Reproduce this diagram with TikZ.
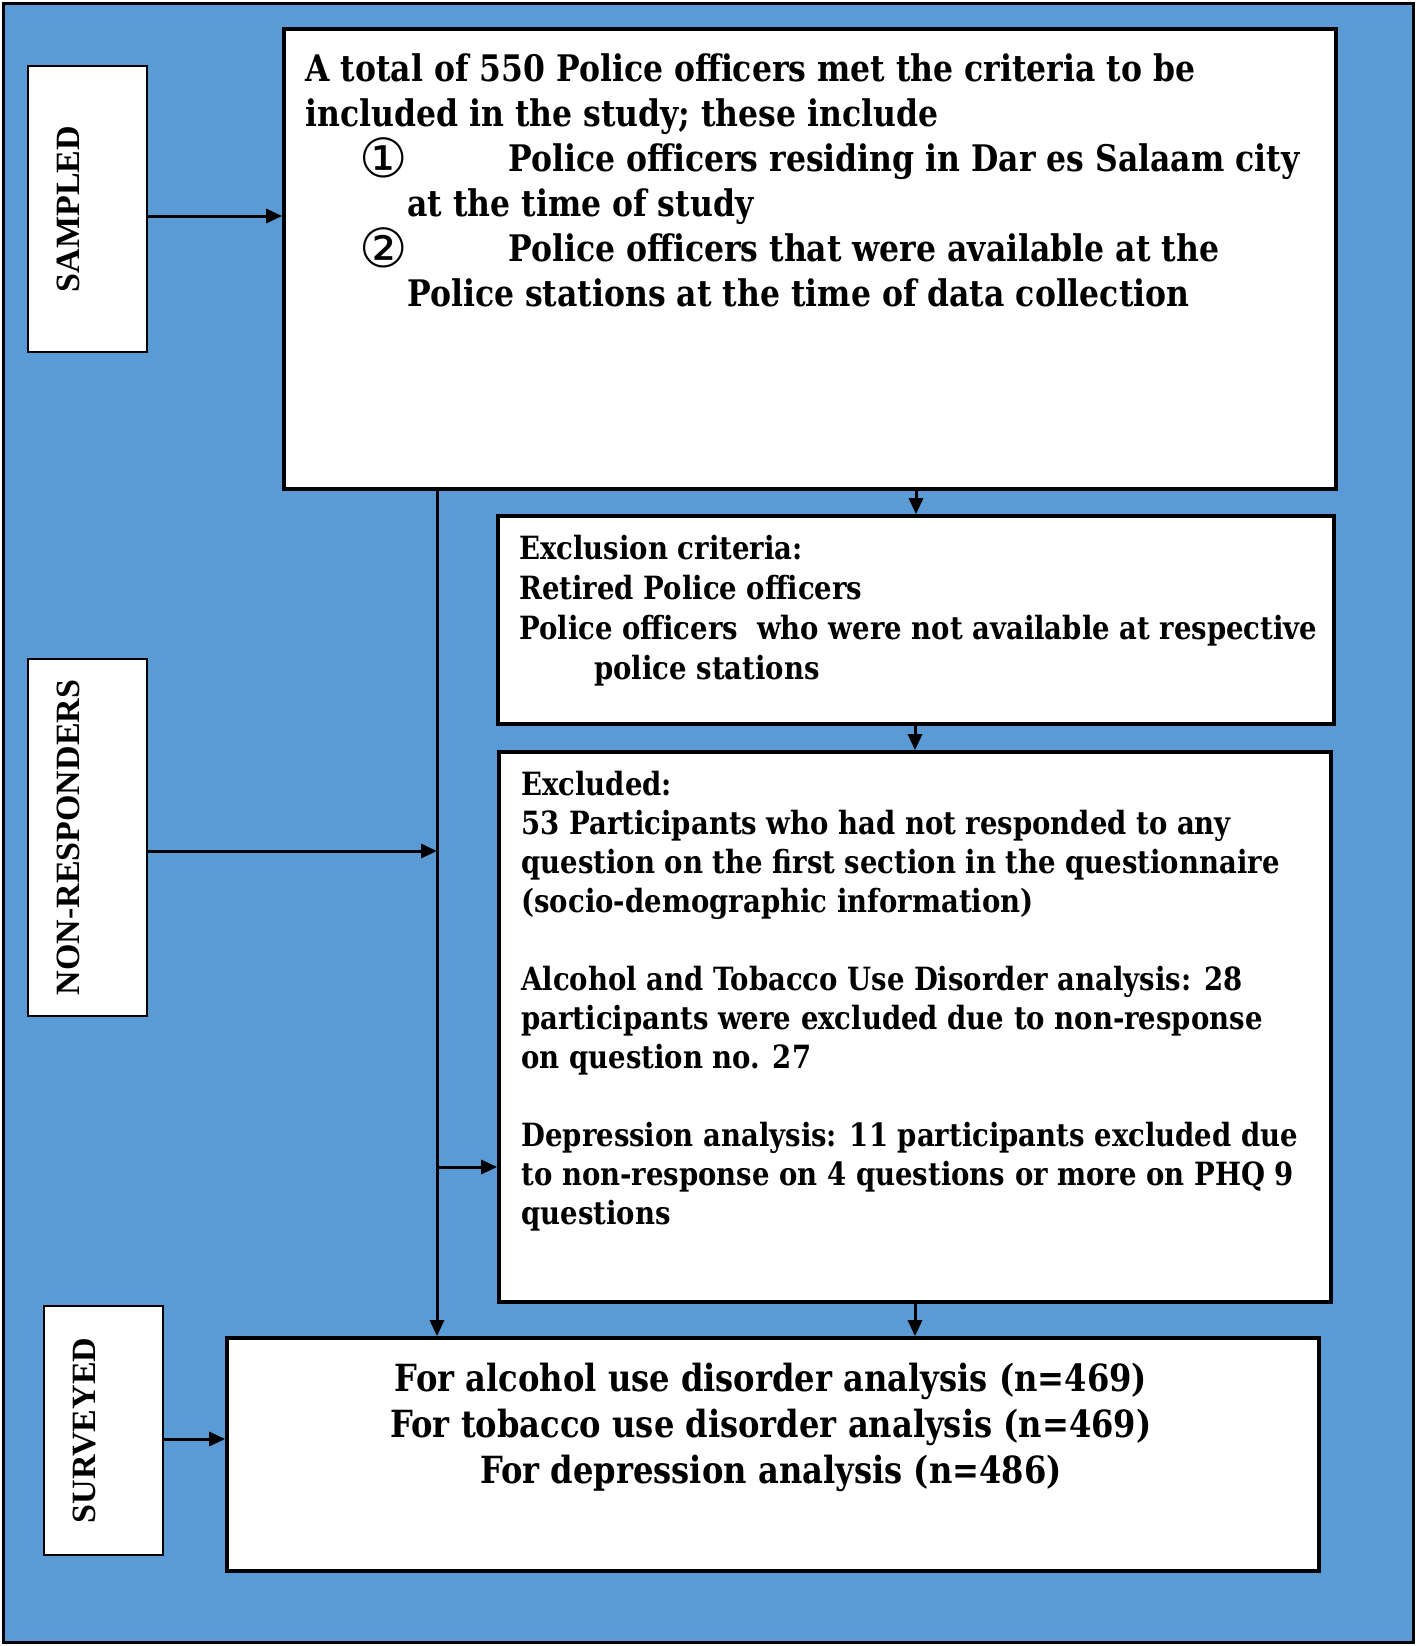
\documentclass[tikz,border=0pt]{standalone}
\usepackage{fontspec}
\setmainfont{DejaVu Serif}[FakeStretch=0.86]
\newfontfamily\labelfont{Liberation Serif}
\newfontfamily\digitfont{DejaVu Sans}
\usetikzlibrary{arrows.meta,fit,positioning}
\definecolor{panelblue}{HTML}{5B9BD5}
\newcommand{\circnum}[1]{\smash{\rlap{\raisebox{-3pt}{\digitfont\mdseries\fontsize{27}{27}\selectfont #1}}}}

\tikzset{
  mainbox/.style={draw=black,fill=white,line width=1.8pt,inner sep=0pt},
  sidebox/.style={draw=black,fill=white,line width=0.6pt,inner sep=0pt},
  sidetxt/.style={rotate=90,inner sep=0pt,yshift=9.5pt,font=\labelfont\bfseries\fontsize{17}{18}\selectfont},
  boxtxt/.style={anchor=north west,align=left,inner sep=0pt},
  flow/.style={line width=1.5pt,-{Triangle[length=8pt,width=7pt]}}
}

\begin{document}
\begin{tikzpicture}[x=0.5pt,y=-0.5pt]
\useasboundingbox (0,0) rectangle (1416,1646);
\draw[line width=1.5pt,fill=panelblue] (3,3) rectangle (1413,1642);

\node[sidebox,fit={(28,66) (147,352)},label={[sidetxt]center:SAMPLED}] (sampled) {};
\node[sidebox,fit={(28,659) (147,1016)},label={[sidetxt]center:NON-RESPONDERS}] (nonresp) {};
\node[sidebox,fit={(44,1306) (163,1555)},label={[sidetxt]center:SURVEYED}] (surveyed) {};

\node[mainbox,fit={(284,29) (1336,489)}] (total) {};
\node[mainbox,fit={(498,516) (1334,724)}] (exclcrit) {};
\node[mainbox,fit={(499,752) (1331,1302)}] (excluded) {};
\node[mainbox,fit={(227,1338) (1319,1571)}] (final) {};

\node[boxtxt,font=\bfseries\fontsize{18.3}{22.5}\selectfont] (totaltxt) at (305,53)
  {A total of 550 Police officers met the criteria to be\\
   included in the study; these include\\
   \hspace*{27pt}\circnum{①}\hspace*{74.5pt}Police officers residing in Dar es Salaam city\\
   \hspace*{51pt}at the time of study\\
   \hspace*{27pt}\circnum{②}\hspace*{74.5pt}Police officers that were available at the\\
   \hspace*{51pt}Police stations at the time of data collection};

\node[boxtxt,font=\bfseries\fontsize{16}{20}\selectfont] (exclcrittxt) at (519,535)
  {Exclusion criteria:\\
   Retired Police officers\\
   Police officers\ \ who were not available at respective\\
   \hspace*{37.5pt}police stations};

\node[boxtxt,font=\bfseries\fontsize{16}{19.5}\selectfont] (excludedtxt) at (521,771)
  {Excluded:\\
   53 Participants who had not responded to any\\
   question on the first section in the questionnaire\\
   (socio-demographic information)\\[19.5pt]
   Alcohol and Tobacco Use Disorder analysis: 28\\
   participants were excluded due to non-response\\
   on question no. 27\\[19.5pt]
   Depression analysis: 11 participants excluded due\\
   to non-response on 4 questions or more on PHQ 9\\
   questions};

\node[anchor=north,align=center,inner sep=0pt,font=\bfseries\fontsize{18.7}{23}\selectfont] (finaltxt) at (771,1363)
  {For alcohol use disorder analysis (n=469)\\
   For tobacco use disorder analysis (n=469)\\
   For depression analysis (n=486)};

\coordinate (sjoin) at (147,216);
\coordinate (nrjoin) at (437,851);
\coordinate (exjoin) at (437,1167);
\coordinate (sujoin) at (163,1439);
\draw[flow] (sjoin) -- (sjoin -| total.west);
\draw[flow] (total.south -| nrjoin) -- (final.north -| nrjoin);
\draw[flow] (nonresp.east |- nrjoin) -- (nrjoin);
\draw[flow] (exjoin) -- (exjoin -| excluded.west);
\draw[flow] (exclcrit.north |- total.south) -- (exclcrit.north);
\draw[flow] (excluded.north |- exclcrit.south) -- (excluded.north);
\draw[flow] (excluded.south) -- (excluded.south |- final.north);
\draw[flow] (sujoin) -- (sujoin -| final.west);
\end{tikzpicture}
\end{document}
